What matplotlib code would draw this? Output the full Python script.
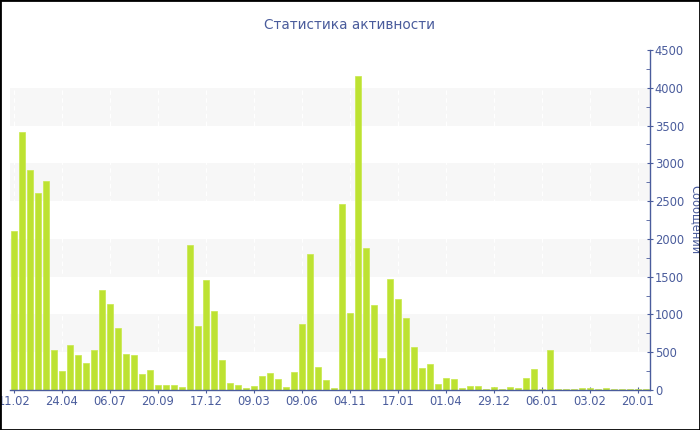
import matplotlib
matplotlib.use('Agg')
import matplotlib.pyplot as plt
from matplotlib.ticker import MultipleLocator

# сообщений за период (80 периодов)
values = [2100, 3410, 2910, 2610, 2770, 530, 250, 595, 465, 360,
          525, 1320, 1135, 825, 475, 465, 215, 265, 65, 65,
          65, 40, 1925, 850, 1455, 1045, 395, 95, 60, 30,
          50, 185, 220, 140, 40, 240, 870, 1795, 300, 130,
          20, 2460, 1020, 4150, 1885, 1120, 420, 1475, 1210, 950,
          570, 290, 345, 79, 158, 141, 26, 53, 48, 18,
          35, 18, 35, 22, 163, 277, 18, 535, 18, 18,
          18, 22, 22, 18, 22, 18, 18, 18, 18, 18]
tick_pos = [0, 6, 12, 18, 24, 30, 36, 42, 48, 54, 60, 66, 72, 78]
tick_labels = ['11.02', '24.04', '06.07', '20.09', '17.12', '09.03', '09.06',
               '04.11', '17.01', '01.04', '29.12', '06.01', '03.02', '20.01']

txt_color = '#4a5c9c'
bar_color = '#bde232'

fig = plt.figure(figsize=(7, 4.3), dpi=100)
fig.patches.append(plt.Rectangle((0, 0), 1, 1, transform=fig.transFigure,
                                 fill=False, edgecolor='black', linewidth=2))
ax = fig.add_axes([10 / 700, 40 / 430, 640 / 700, 340 / 430])

# чередующиеся полосы
for lo in range(500, 4500, 1000):
    ax.axhspan(lo, lo + 500, color='#f7f7f7', zorder=0, linewidth=0)
for t in tick_pos:
    ax.axvline(t, color='white', linestyle=(0, (4, 3)), linewidth=0.8, zorder=0.5)

ax.bar(range(len(values)), values, width=0.8, color=bar_color,
       edgecolor='#c8e84a', linewidth=0.5, zorder=2)

ax.set_xlim(-0.5, len(values) - 0.5)
ax.set_ylim(0, 4500)
ax.set_xticks(tick_pos)
ax.set_xticklabels(tick_labels)
ax.yaxis.tick_right()
ax.yaxis.set_label_position('right')
ax.yaxis.set_major_locator(MultipleLocator(500))
ax.yaxis.set_minor_locator(MultipleLocator(250))

for s in ['top', 'left']:
    ax.spines[s].set_visible(False)
for s in ['bottom', 'right']:
    ax.spines[s].set_color(txt_color)
    ax.spines[s].set_linewidth(1)
    ax.spines[s].set_zorder(3)

ax.tick_params(axis='x', colors=txt_color, labelsize=8.3, direction='inout',
               length=5, pad=1)
ax.tick_params(axis='y', which='major', colors=txt_color, labelsize=8.3,
               direction='inout', length=5, pad=1)
ax.tick_params(axis='y', which='minor', colors=txt_color, direction='in', length=3)

ax.set_ylabel('Сообщений', color=txt_color, fontsize=8.3, rotation=270, labelpad=13)
fig.text(0.5, 1 - 25 / 430, 'Статистика активности', color=txt_color,
         fontsize=9.8, ha='center', va='center')

fig.savefig('out.png', dpi=100)
